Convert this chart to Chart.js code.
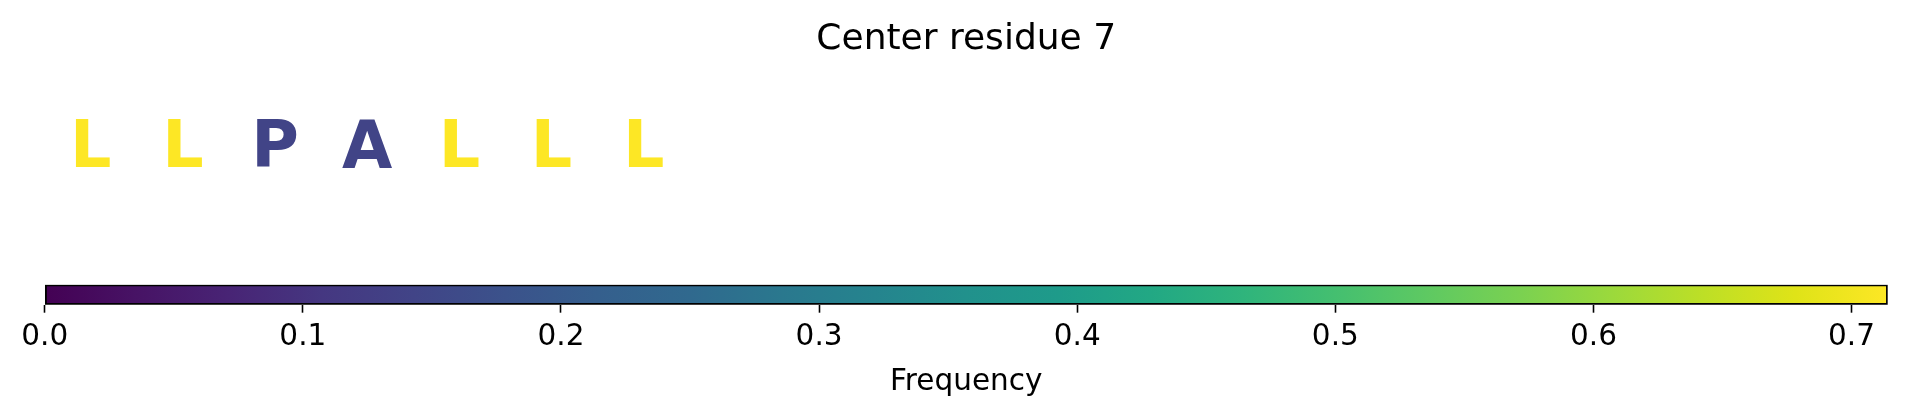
<!DOCTYPE html>
<html>
<head>
<meta charset="utf-8">
<script src="https://cdn.jsdelivr.net/npm/chart.js@4.4.1/dist/chart.umd.min.js"></script>
<style>
  html, body { margin: 0; padding: 0; background: #fff; }
  body { width: 1907px; height: 416px; position: relative; overflow: hidden; }
  .box { position: absolute; left: 0; width: 1907px; }
  #logoWrap { top: 0; height: 270px; }
  #barWrap { top: 270px; height: 146px; }
</style>
</head>
<body>
<div class="box" id="logoWrap"><canvas id="logoCanvas"></canvas></div>
<div class="box" id="barWrap"><canvas id="barCanvas"></canvas></div>
<script>
/** Sequence window logo coloured by residue frequency, with a viridis colourbar. */
const TITLE = "Center residue 7";
const residues = ["L", "L", "P", "A", "L", "L", "L"];
const positions = [0.5, 1.5, 2.5, 3.5, 4.5, 5.5, 6.5];
const frequencies = [0.714, 0.714, 0.143, 0.143, 0.714, 0.714, 0.714];
const freqMin = 0;
const freqMax = 0.714;
const colorbarTicks = [0, 0.1, 0.2, 0.3, 0.4, 0.5, 0.6, 0.7];

const VIRIDIS = [
  "#440154", "#471365", "#482475", "#453781", "#414487", "#3b528b",
  "#355f8d", "#30698e", "#2a788e", "#25848e", "#21918c", "#1e9b8a",
  "#22a884", "#2fb47c", "#44bf70", "#5ec962", "#7ad151", "#9bd93c",
  "#bddf26", "#dfe318", "#fde725",
];

const PAD_LEFT = 44.7;
const PAD_RIGHT = 19.3;

Chart.defaults.font.family = "'DejaVu Sans', sans-serif";
Chart.defaults.color = "#000";
Chart.defaults.animation = false;

function hexToRgb(hex) {
  const n = parseInt(hex.slice(1), 16);
  return [(n >> 16) & 255, (n >> 8) & 255, n & 255];
}

function viridis(t) {
  const c = Math.min(1, Math.max(0, t)) * (VIRIDIS.length - 1);
  const i = Math.min(VIRIDIS.length - 2, Math.floor(c));
  const f = c - i;
  const a = hexToRgb(VIRIDIS[i]);
  const b = hexToRgb(VIRIDIS[i + 1]);
  const rgb = a.map((v, k) => Math.round(v + (b[k] - v) * f));
  return `rgb(${rgb.join(",")})`;
}

function freqColor(v) {
  return viridis((v - freqMin) / (freqMax - freqMin));
}

// draws each residue letter centred on its point position
const letterPlugin = {
  id: "letters",
  afterDatasetsDraw(chart) {
    const { ctx } = chart;
    const meta = chart.getDatasetMeta(0);
    ctx.save();
    ctx.font = "bold 65px 'DejaVu Sans', sans-serif";
    ctx.textAlign = "center";
    ctx.textBaseline = "alphabetic";
    meta.data.forEach((pt, i) => {
      const ch = residues[i];
      const m = ctx.measureText(ch);
      const asc = m.actualBoundingBoxAscent;
      const desc = m.actualBoundingBoxDescent;
      ctx.fillStyle = freqColor(frequencies[i]);
      ctx.fillText(ch, pt.x, pt.y + (asc - desc) / 2);
    });
    ctx.restore();
  },
};

new Chart(document.getElementById("logoCanvas"), {
  type: "scatter",
  data: {
    datasets: [{
      data: positions.map((x) => ({ x, y: 0.5 })),
      pointRadius: 0,
      pointHoverRadius: 0,
    }],
  },
  options: {
    responsive: true,
    maintainAspectRatio: false,
    layout: { padding: { left: PAD_LEFT, right: PAD_RIGHT, top: 0, bottom: 52.3 } },
    plugins: {
      legend: { display: false },
      tooltip: { enabled: false },
      title: {
        display: true,
        text: TITLE,
        fullSize: false,
        font: { size: 36, weight: "normal" },
        color: "#000",
        padding: { top: 18, bottom: 7.5 },
      },
    },
    scales: {
      x: { type: "linear", min: 0, max: 20, display: false },
      y: { type: "linear", min: 0, max: 1, display: false },
    },
  },
  plugins: [letterPlugin],
});

new Chart(document.getElementById("barCanvas"), {
  type: "bar",
  data: {
    labels: [""],
    datasets: [{
      data: [[freqMin, freqMax]],
      backgroundColor(ctx) {
        const chart = ctx.chart;
        const xs = chart.scales.x;
        if (!chart.chartArea || !xs) return "#21918c";
        const g = chart.ctx.createLinearGradient(
          xs.getPixelForValue(freqMin), 0, xs.getPixelForValue(freqMax), 0);
        VIRIDIS.forEach((c, i) => g.addColorStop(i / (VIRIDIS.length - 1), c));
        return g;
      },
      borderColor: "#000",
      borderWidth: 2,
      borderSkipped: false,
      barPercentage: 1,
      categoryPercentage: 1,
    }],
  },
  options: {
    indexAxis: "y",
    responsive: true,
    maintainAspectRatio: false,
    layout: { padding: { left: PAD_LEFT, right: PAD_RIGHT, top: 14.7, bottom: 15.6 } },
    plugins: {
      legend: { display: false },
      tooltip: { enabled: false },
    },
    scales: {
      x: {
        type: "linear",
        min: freqMin,
        max: freqMax,
        border: { display: false },
        grid: {
          drawOnChartArea: false,
          drawTicks: true,
          tickLength: 8,
          tickWidth: 1.6,
          tickColor: "#000",
        },
        afterBuildTicks(scale) {
          scale.ticks = colorbarTicks.map((value) => ({ value }));
        },
        afterFit(scale) {
          scale.height = 95.7;
        },
        ticks: {
          font: { size: 29.5 },
          color: "#000",
          padding: 7,
          maxRotation: 0,
          autoSkip: false,
          callback: (v) => Number(v).toFixed(1),
        },
        title: {
          display: true,
          text: "Frequency",
          font: { size: 29.5 },
          color: "#000",
          padding: { top: 4, bottom: 0 },
        },
      },
      y: { display: false },
    },
  },
});
</script>
</body>
</html>
